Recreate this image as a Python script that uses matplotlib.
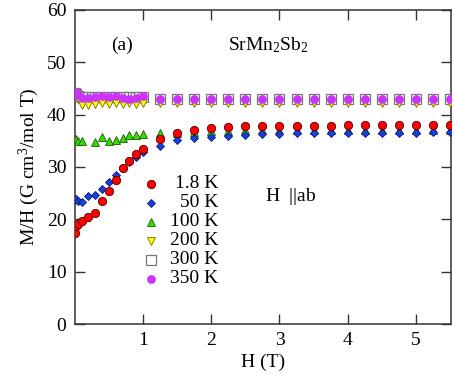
"""M/H vs H for SrMn2Sb2, H || ab, at several temperatures."""

import numpy as np
import matplotlib
matplotlib.use("Agg")
import matplotlib.pyplot as plt

plt.rcParams['font.family'] = ['Liberation Serif', 'DejaVu Serif']
plt.rcParams['mathtext.fontset'] = 'custom'
plt.rcParams['mathtext.rm'] = 'Liberation Serif'
plt.rcParams['mathtext.it'] = 'Liberation Serif:italic'

# field points: fine steps below 1 T, 0.25 T steps above
H_low = [0.01, 0.02, 0.05, 0.1, 0.2, 0.3, 0.4, 0.5, 0.6, 0.7, 0.8, 0.9, 1.0]
H_high = [1.25, 1.5, 1.75, 2.0, 2.25, 2.5, 2.75, 3.0, 3.25, 3.5, 3.75,
          4.0, 4.25, 4.5, 4.75, 5.0, 5.25, 5.5]

mh_1p8K = [17.3, 18.8, 19.2, 19.7, 20.4, 21.2, 23.5, 25.4, 27.6, 29.8, 31.1, 32.4, 33.4,
           35.4, 36.5, 37.1, 37.5, 37.7, 37.8, 37.8, 37.9, 37.9, 37.9, 37.9, 38.0,
           38.0, 38.0, 38.0, 38.0, 38.0, 38.0]
mh_50K = [23.7, 23.8, 23.5, 23.4, 24.4, 24.6, 25.8, 27.2, 28.5, 29.9, 31.0, 32.0, 32.9,
          34.1, 35.1, 35.5, 35.8, 36.0, 36.2, 36.3, 36.3, 36.4, 36.4, 36.4, 36.5,
          36.5, 36.5, 36.5, 36.5, 36.6, 36.6]
mh_100K = [35.2, 35.3, 35.0, 35.0, np.nan, 34.8, 35.7, 35.0, 35.2, 35.6, 36.1, 36.1, 36.3,
           36.4, 36.5, 36.6, 36.8, 36.9, 37.0, 37.0, 37.0, 37.0, 37.0, 37.1, 37.1,
           37.1, 37.1, 37.1, 37.1, 37.1, 37.1]
mh_200K = [44.0, 43.8, 43.0, 41.9, 41.8, 42.1, 42.2, 42.0, 42.2, 42.1, 42.2, 42.0, 42.2,
           42.3, 42.3, 42.3, 42.3, 42.3, 42.3, 42.3, 42.3, 42.3, 42.3, 42.3, 42.3,
           42.3, 42.3, 42.3, 42.3, 42.3, 42.3]
mh_300K = [44.2, 44.0, 43.6, 43.3, 43.3, 43.4, 43.4, 43.4, 43.4, 43.3, 43.3, 43.4, 43.3,
           43.0, 43.0, 43.0, 43.0, 43.0, 43.0, 43.0, 43.0, 43.0, 43.0, 43.0, 43.0,
           43.0, 43.0, 43.0, 43.0, 43.0, 43.0]
mh_350K = [44.3, 44.2, 43.8, 43.1, 43.1, 43.3, 43.5, 43.3, 43.5, 43.1, 42.9, 43.1, 43.5,
           43.0, 43.0, 43.0, 43.0, 43.0, 43.0, 43.0, 43.0, 43.0, 43.0, 43.0, 43.0,
           43.0, 43.0, 43.0, 43.0, 43.0, 43.0]

labels = ['1.8 K', '50 K', '100 K', '200 K', '300 K', '350 K']

H = np.array(H_low + H_high)

styles = [
    dict(marker='o', ms=6.0, mfc='#ff0000', mec='#550000', mew=0.6),
    dict(marker='D', ms=4.2, mfc='#1a3fe0', mec='#0a1a70', mew=0.6),
    dict(marker='^', ms=6.0, mfc='#33dd00', mec='#1d5a00', mew=0.6),
    dict(marker='v', ms=6.0, mfc='#ffff00', mec='#7a6a00', mew=0.6),
    dict(marker='s', ms=7.0, mfc='none', mec='#777777', mew=0.9),
    dict(marker='o', ms=6.0, mfc='#cc33ff', mec='#cc33ff', mew=0.3),
]
series = [mh_1p8K, mh_50K, mh_100K, mh_200K, mh_300K, mh_350K]

fig = plt.figure(figsize=(4.56, 3.83), dpi=100)
ax = fig.add_axes([0.164, 0.154, 0.826, 0.820])

# 300 K squares sit behind the others
order = [4, 3, 5, 2, 1, 0]
for i in order:
    ax.plot(H, series[i], ls='none', zorder=3 + (i == 0), **styles[i])

# hand-made legend with right-aligned labels
for k, (lab, st) in enumerate(zip(labels, styles)):
    ly = 0.446 - k * 0.0605
    ax.plot([0.2035], [ly], transform=ax.transAxes, ls='none', **st)
    ax.text(0.381, ly, lab, transform=ax.transAxes, ha='right', va='center', fontsize=14)

ax.text(0.097, 0.887, '(a)', transform=ax.transAxes, fontsize=14, va='center')
ax.text(0.408, 0.887, 'SrMn$_2$Sb$_2$', transform=ax.transAxes, fontsize=14, va='center')
ax.text(0.505, 0.405, r'H  $||$ab', transform=ax.transAxes, fontsize=14, va='center')

ax.set_xlim(0, 5.52)
ax.set_ylim(0, 60)
ax.set_xticks([1, 2, 3, 4, 5])
ax.set_yticks([0, 10, 20, 30, 40, 50, 60])
ax.tick_params(direction='in', top=True, right=True, length=7, width=1,
               color='#333333', labelsize=14, pad=6)
for sp in ax.spines.values():
    sp.set_color('#333333')
    sp.set_linewidth(1.1)

ax.set_xlabel('H (T)', fontsize=14, labelpad=3)
ax.set_ylabel('M/H (G cm$^3$/mol T)', fontsize=14, labelpad=4)

fig.savefig('out.png', dpi=100)
